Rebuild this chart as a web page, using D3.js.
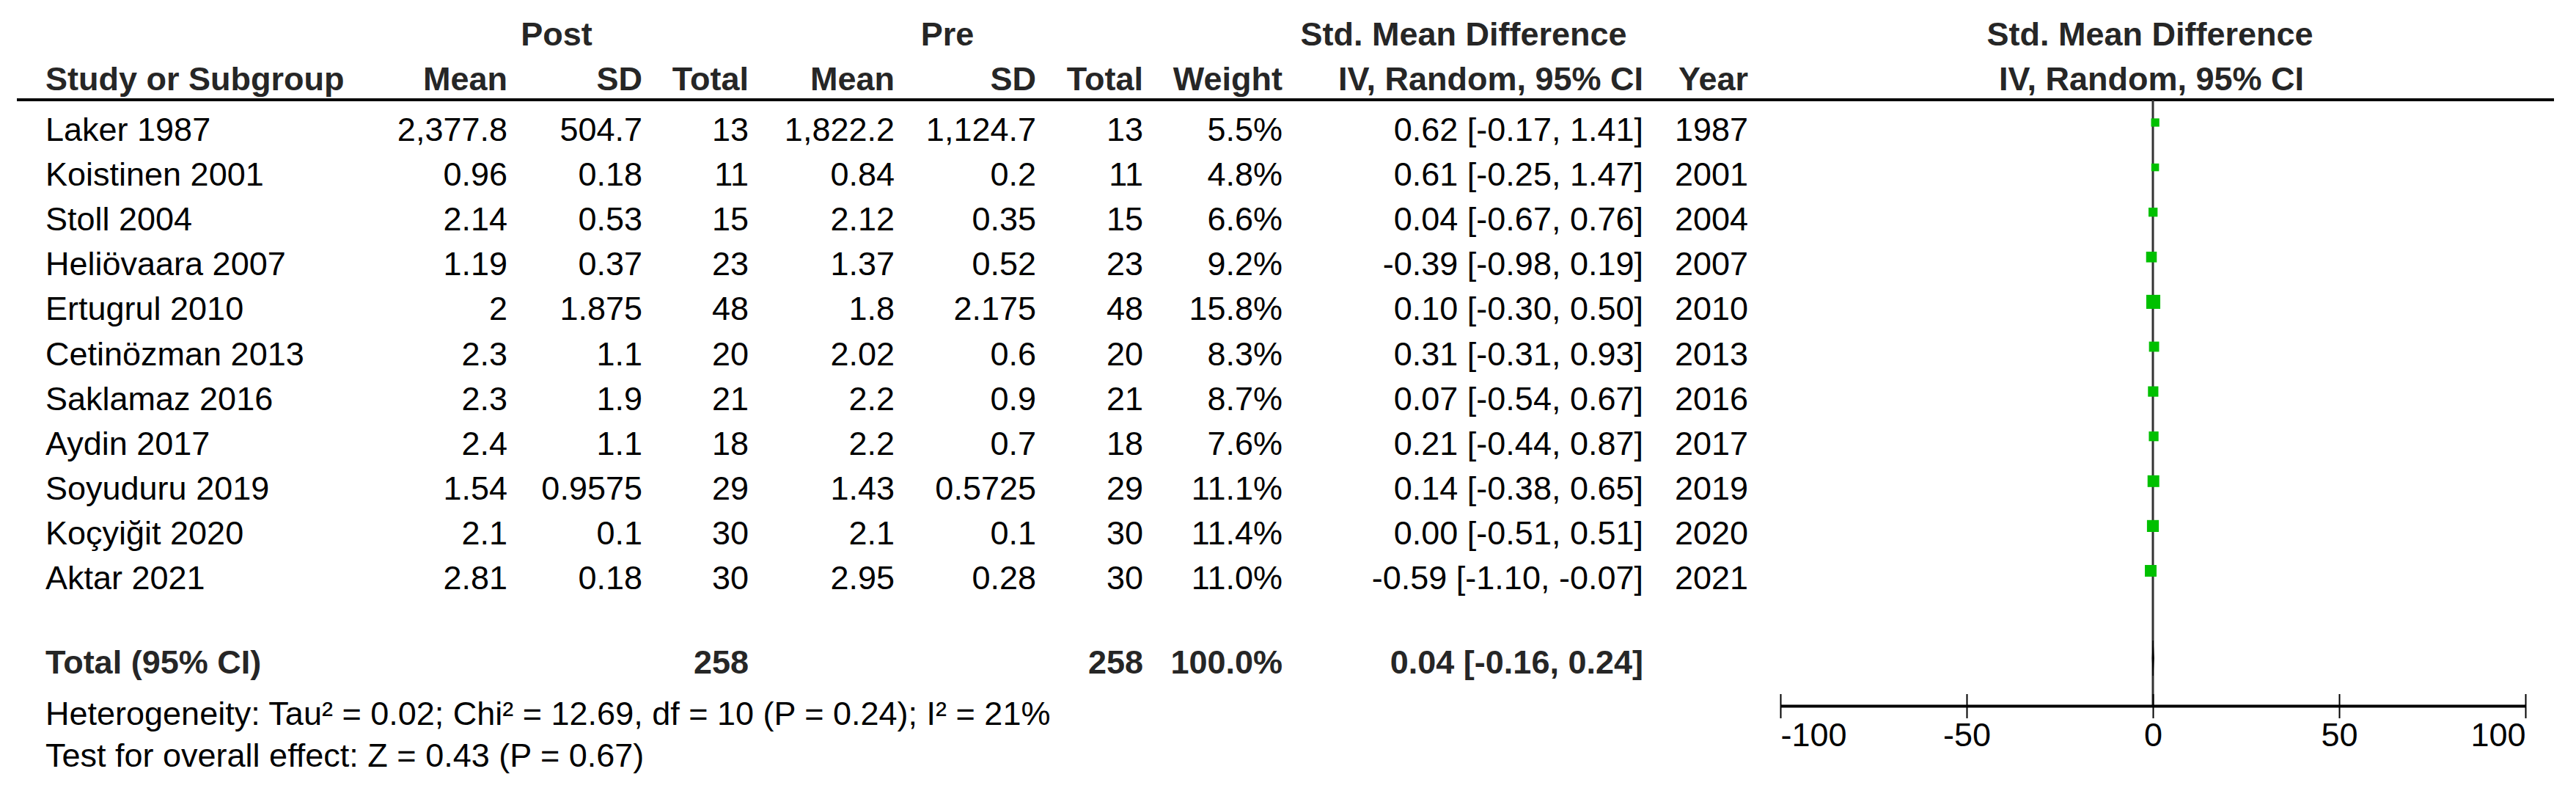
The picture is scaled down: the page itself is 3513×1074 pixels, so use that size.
<!DOCTYPE html>
<html>
<head>
<meta charset="utf-8">
<script src="https://cdn.jsdelivr.net/npm/d3@7/dist/d3.min.js"></script>
<style>
  html, body { margin: 0; padding: 0; background: #fff; }
  svg text { font-family: "Liberation Sans", Arial, sans-serif; }
</style>
</head>
<body>
<svg id="chart"></svg>
<script>
'use strict';

// ── Data ──────────────────────────────────────────────────────────────────
const studies   = ['Laker 1987', 'Koistinen 2001', 'Stoll 2004', 'Heliövaara 2007', 'Ertugrul 2010',
                   'Cetinözman 2013', 'Saklamaz 2016', 'Aydin 2017', 'Soyuduru 2019', 'Koçyiğit 2020', 'Aktar 2021'];
const postMean  = [2377.8, 0.96, 2.14, 1.19, 2, 2.3, 2.3, 2.4, 1.54, 2.1, 2.81];
const postSD    = [504.7, 0.18, 0.53, 0.37, 1.875, 1.1, 1.9, 1.1, 0.9575, 0.1, 0.18];
const postTotal = [13, 11, 15, 23, 48, 20, 21, 18, 29, 30, 30];
const preMean   = [1822.2, 0.84, 2.12, 1.37, 1.8, 2.02, 2.2, 2.2, 1.43, 2.1, 2.95];
const preSD     = [1124.7, 0.2, 0.35, 0.52, 2.175, 0.6, 0.9, 0.7, 0.5725, 0.1, 0.28];
const preTotal  = [13, 11, 15, 23, 48, 20, 21, 18, 29, 30, 30];
const weights   = [5.5, 4.8, 6.6, 9.2, 15.8, 8.3, 8.7, 7.6, 11.1, 11.4, 11.0];
const smd       = [0.62, 0.61, 0.04, -0.39, 0.10, 0.31, 0.07, 0.21, 0.14, 0.00, -0.59];
const ciLow     = [-0.17, -0.25, -0.67, -0.98, -0.30, -0.31, -0.54, -0.44, -0.38, -0.51, -1.10];
const ciHigh    = [1.41, 1.47, 0.76, 0.19, 0.50, 0.93, 0.67, 0.87, 0.65, 0.51, -0.07];
const years     = [1987, 2001, 2004, 2007, 2010, 2013, 2016, 2017, 2019, 2020, 2021];

const total       = { label: 'Total (95% CI)', post: 258, pre: 258, weight: 100.0, est: 0.04, lo: -0.16, hi: 0.24 };
const footnotes   = ['Heterogeneity: Tau² = 0.02; Chi² = 12.69, df = 10 (P = 0.24); I² = 21%',
                     'Test for overall effect: Z = 0.43 (P = 0.67)'];
const axisTicks   = [-100, -50, 0, 50, 100];
const axisDomain  = [-100, 100];

// ── Layout ────────────────────────────────────────────────────────────────
const W = 3513, H = 1074;
const FS = 45;
const svg = d3.select('#chart').attr('width', W).attr('height', H);

const col = {
  study: 62, postMean: 692, postSD: 876, postTotal: 1021,
  preMean: 1220, preSD: 1413, preTotal: 1559, weight: 1749, ci: 2241, year: 2384,
};
const head1Y = 62, head2Y = 123, ruleY = 136;
const rowY   = d3.scaleLinear().domain([0, 10]).range([192, 803]);
const totalY = 918, foot1Y = 988, foot2Y = 1045;

const x = d3.scaleLinear().domain(axisDomain).range([2428, 3444]);
const axisY = 962;

const num = d3.format(',');
const f2  = v => v.toFixed(2);

function txt(g, s, px, py, anchor, opts = {}) {
  return g.append('text')
    .attr('x', px).attr('y', py)
    .attr('text-anchor', anchor || 'start')
    .attr('font-size', opts.size || FS)
    .attr('font-weight', opts.bold ? 'bold' : 'normal')
    .attr('fill', opts.bold ? '#262626' : '#000')
    .text(s);
}

// ── Headers ───────────────────────────────────────────────────────────────
const hd = svg.append('g');
const B = { bold: true };
txt(hd, 'Post', 759, head1Y, 'middle', B);
txt(hd, 'Pre', 1292, head1Y, 'middle', B);
txt(hd, 'Std. Mean Difference', 1996, head1Y, 'middle', B);
txt(hd, 'Std. Mean Difference', 2932, head1Y, 'middle', B);

txt(hd, 'Study or Subgroup', col.study, head2Y, 'start', B);
txt(hd, 'Mean', col.postMean, head2Y, 'end', B);
txt(hd, 'SD', col.postSD, head2Y, 'end', B);
txt(hd, 'Total', col.postTotal, head2Y, 'end', B);
txt(hd, 'Mean', col.preMean, head2Y, 'end', B);
txt(hd, 'SD', col.preSD, head2Y, 'end', B);
txt(hd, 'Total', col.preTotal, head2Y, 'end', B);
txt(hd, 'Weight', col.weight, head2Y, 'end', B);
txt(hd, 'IV, Random, 95% CI', col.ci, head2Y, 'end', B);
txt(hd, 'Year', col.year, head2Y, 'end', B);
txt(hd, 'IV, Random, 95% CI', 2934, head2Y, 'middle', B);

svg.append('line')
  .attr('x1', 23).attr('x2', 3483).attr('y1', ruleY).attr('y2', ruleY)
  .attr('stroke', '#000').attr('stroke-width', 4);

// ── Study rows ────────────────────────────────────────────────────────────
const rows = svg.append('g');
studies.forEach((s, i) => {
  const y = rowY(i);
  txt(rows, s, col.study, y, 'start');
  txt(rows, num(postMean[i]), col.postMean, y, 'end');
  txt(rows, num(postSD[i]), col.postSD, y, 'end');
  txt(rows, postTotal[i], col.postTotal, y, 'end');
  txt(rows, num(preMean[i]), col.preMean, y, 'end');
  txt(rows, num(preSD[i]), col.preSD, y, 'end');
  txt(rows, preTotal[i], col.preTotal, y, 'end');
  txt(rows, weights[i].toFixed(1) + '%', col.weight, y, 'end');
  txt(rows, `${f2(smd[i])} [${f2(ciLow[i])}, ${f2(ciHigh[i])}]`, col.ci, y, 'end');
  txt(rows, years[i], col.year, y, 'end');
});

// ── Total row & footnotes ─────────────────────────────────────────────────
const tg = svg.append('g');
txt(tg, total.label, col.study, totalY, 'start', B);
txt(tg, total.post, col.postTotal, totalY, 'end', B);
txt(tg, total.pre, col.preTotal, totalY, 'end', B);
txt(tg, total.weight.toFixed(1) + '%', col.weight, totalY, 'end', B);
txt(tg, `${f2(total.est)} [${f2(total.lo)}, ${f2(total.hi)}]`, col.ci, totalY, 'end', B);
txt(tg, footnotes[0], col.study, foot1Y, 'start');
txt(tg, footnotes[1], col.study, foot2Y, 'start');

// ── Forest plot ───────────────────────────────────────────────────────────
const plot = svg.append('g');

plot.append('line')
  .attr('x1', x(0)).attr('x2', x(0)).attr('y1', ruleY).attr('y2', axisY)
  .attr('stroke', '#333').attr('stroke-width', 3);

// CI whiskers
plot.append('g').selectAll('line')
  .data(studies.map((s, i) => i)).join('line')
  .attr('x1', i => x(ciLow[i])).attr('x2', i => x(ciHigh[i]))
  .attr('y1', i => rowY(i) - 25).attr('y2', i => rowY(i) - 25)
  .attr('stroke', '#000').attr('stroke-width', 1.5);

// weight squares
const side = w => 4.8 * Math.sqrt(w);
plot.append('g').selectAll('rect')
  .data(studies.map((s, i) => i)).join('rect')
  .attr('x', i => x(smd[i]) - side(weights[i]) / 2)
  .attr('y', i => rowY(i) - 25 - side(weights[i]) / 2)
  .attr('width', i => side(weights[i]))
  .attr('height', i => side(weights[i]))
  .attr('fill', '#00c000');

// pooled diamond
const dy = totalY - 21;
plot.append('path')
  .attr('d', `M${x(total.lo)},${dy} L${x(total.est)},${dy - 24} L${x(total.hi)},${dy} L${x(total.est)},${dy + 24} Z`)
  .attr('fill', '#000').attr('stroke', '#000').attr('stroke-width', 1);

// axis
const axis = d3.axisBottom(x).tickValues(axisTicks).tickSize(0).tickFormat(d => String(d));
const ax = plot.append('g').attr('transform', `translate(0,${axisY})`).call(axis);
ax.select('.domain').attr('stroke', '#000').attr('stroke-width', 4);
ax.selectAll('.tick line').remove();
ax.selectAll('.tick').append('line')
  .attr('y1', -16).attr('y2', 17).attr('stroke', '#000').attr('stroke-width', 2);
ax.selectAll('.tick text')
  .attr('y', 55).attr('dy', null)
  .attr('font-size', FS).attr('font-family', '"Liberation Sans", Arial, sans-serif')
  .attr('fill', '#000')
  .attr('text-anchor', d => d === axisDomain[0] ? 'start' : d === axisDomain[1] ? 'end' : 'middle');
</script>
</body>
</html>
